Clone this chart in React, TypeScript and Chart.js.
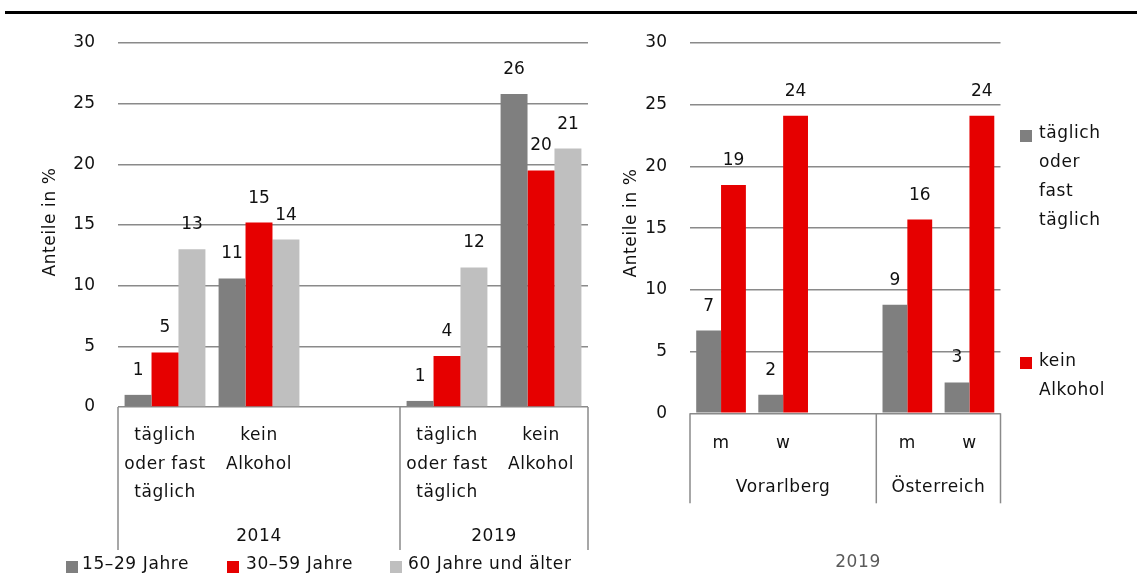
import React, { useEffect, useRef } from 'react';
import { Chart, registerables } from 'chart.js';

Chart.register(...registerables);

const FONT = '"DejaVu Sans", "Noto Sans", sans-serif';
const FS = 17;
const TEXT = '#111111';
const GRID = '#8a8a8a';
const DARK = '#7f7f7f';
const RED = '#e60000';
const LIGHT = '#bfbfbf';

// ---- left panel data ----
const leftCategories = ['täglich oder fast täglich', 'kein Alkohol', '', 'täglich oder fast täglich', 'kein Alkohol'];
const leftCategoryLines = [['täglich', 'oder fast', 'täglich'], ['kein', 'Alkohol'], [], ['täglich', 'oder fast', 'täglich'], ['kein', 'Alkohol']];
const leftGroups = ['2014', '2019'];
const leftGroupSpans = [3, 2];
const leftSeriesNames = ['15–29 Jahre', '30–59 Jahre', '60 Jahre und älter'];
const age15to29 = [1.0, 10.6, null, 0.5, 25.8];
const age30to59 = [4.5, 15.2, null, 4.2, 19.5];
const age60plus = [13.0, 13.8, null, 11.5, 21.3];

// ---- right panel data ----
const rightCategories = ['m', 'w', '', 'm', 'w'];
const rightCategoryLines = [['m'], ['w'], [], ['m'], ['w']];
const rightGroups = ['Vorarlberg', 'Österreich'];
const rightGroupSpans = [3, 2];
const rightSeriesNames = [['täglich', 'oder', 'fast', 'täglich'], ['kein', 'Alkohol']];
const dailyValues = [6.7, 1.5, null, 8.8, 2.5];
const noAlcoholValues = [18.5, 24.1, null, 15.7, 24.1];
const rightFooter = '2019';

const yMax = 30;
const yStep = 5;
const yTitle = 'Anteile in %';

type LegendItem = { color: string; sx: number; sy: number; tx: number; ty: number; lines: string[] };

type Decor = {
  categoryLines: string[][];
  groups: string[];
  groupSpans: number[];
  catY0: number;
  lineH: number;
  groupY: number;
  divLen: number;
  titleX: number;
  titleY: number;
  legend: LegendItem[];
  footer?: { text: string; x: number; y: number };
};

const WORD_SPACING = '0.6px';

function makeDecor(cfg: Decor) {
  return {
    id: 'decor',
    afterDraw(chart: any) {
      const { ctx, chartArea } = chart;
      const xs = chart.scales.x;
      const n = cfg.categoryLines.length;
      const cw = (chartArea.right - chartArea.left) / n;
      ctx.save();
      ctx.font = `${FS}px ${FONT}`;
      ctx.fillStyle = TEXT;
      ctx.textAlign = 'center';
      ctx.textBaseline = 'alphabetic';
      // value labels
      chart.data.datasets.forEach((ds: any, di: number) => {
        const meta = chart.getDatasetMeta(di);
        meta.data.forEach((el: any, i: number) => {
          const v = ds.data[i];
          if (v == null) return;
          ctx.fillText(String(Math.round(v)), el.x, el.y - 20);
        });
      });
      (ctx as any).letterSpacing = WORD_SPACING;
      // category labels
      ctx.textBaseline = 'middle';
      cfg.categoryLines.forEach((lines, i) => {
        const x = xs.getPixelForValue(i);
        lines.forEach((t, k) => ctx.fillText(t, x, chartArea.bottom + cfg.catY0 + k * cfg.lineH));
      });
      // dividers
      const bounds = [0];
      let acc = 0;
      cfg.groupSpans.forEach((s) => {
        acc += s;
        bounds.push(acc);
      });
      ctx.strokeStyle = GRID;
      ctx.lineWidth = 1.5;
      bounds.forEach((b) => {
        const x = chartArea.left + b * cw;
        ctx.beginPath();
        ctx.moveTo(x, chartArea.bottom);
        ctx.lineTo(x, chartArea.bottom + cfg.divLen);
        ctx.stroke();
      });
      // group labels
      cfg.groups.forEach((g, gi) => {
        const x = chartArea.left + ((bounds[gi] + bounds[gi + 1]) / 2) * cw;
        ctx.fillText(g, x, chartArea.bottom + cfg.groupY);
      });
      // y title
      ctx.save();
      ctx.translate(cfg.titleX, cfg.titleY);
      ctx.rotate(-Math.PI / 2);
      ctx.fillText(yTitle, 0, 0);
      ctx.restore();
      // legend
      ctx.textAlign = 'left';
      cfg.legend.forEach((it) => {
        ctx.fillStyle = it.color;
        ctx.fillRect(it.sx, it.sy, 12, 12);
        ctx.fillStyle = TEXT;
        it.lines.forEach((t, k) => ctx.fillText(t, it.tx, it.ty + k * 28.7));
      });
      if (cfg.footer) {
        ctx.textAlign = 'center';
        ctx.fillStyle = '#5a5a5a';
        ctx.fillText(cfg.footer.text, cfg.footer.x, cfg.footer.y);
      }
      ctx.restore();
    },
  };
}

function baseOptions(yWidth: number, padding: any, catPct: number) {
  return {
    responsive: false,
    animation: false as const,
    layout: { padding },
    datasets: { bar: { categoryPercentage: catPct, barPercentage: 1 } },
    plugins: { legend: { display: false }, tooltip: { enabled: false } },
    scales: {
      x: { display: false },
      y: {
        min: 0,
        max: yMax,
        ticks: { stepSize: yStep, padding: 23, color: TEXT, font: { family: FONT, size: FS } },
        grid: { color: GRID, lineWidth: 1.5, drawTicks: false },
        border: { display: false },
        afterFit: (s: any) => {
          s.width = yWidth;
        },
      },
    },
  };
}

function LeftChart() {
  const ref = useRef<HTMLCanvasElement>(null);
  useEffect(() => {
    const decor = makeDecor({
      categoryLines: leftCategoryLines,
      groups: leftGroups,
      groupSpans: leftGroupSpans,
      catY0: 29,
      lineH: 28.5,
      groupY: 130,
      divLen: 143,
      titleX: 51,
      titleY: 222,
      legend: [
        { color: DARK, sx: 66, sy: 561, tx: 82, ty: 565, lines: [leftSeriesNames[0]] },
        { color: RED, sx: 227, sy: 561, tx: 246, ty: 565, lines: [leftSeriesNames[1]] },
        { color: LIGHT, sx: 390, sy: 561, tx: 408, ty: 565, lines: [leftSeriesNames[2]] },
      ],
    });
    const chart = new Chart(ref.current!, {
      type: 'bar',
      data: {
        labels: leftCategories,
        datasets: [
          { label: leftSeriesNames[0], data: age15to29, backgroundColor: DARK },
          { label: leftSeriesNames[1], data: age30to59, backgroundColor: RED },
          { label: leftSeriesNames[2], data: age60plus, backgroundColor: LIGHT },
        ],
      },
      options: baseOptions(118, { left: 0, top: 43, right: 12, bottom: 166 }, 0.86) as any,
      plugins: [decor as any],
    });
    return () => chart.destroy();
  }, []);
  return <canvas ref={ref} width={600} height={573} style={{ position: 'absolute', left: 0, top: 0, display: 'block' }} />;
}

function RightChart() {
  const ref = useRef<HTMLCanvasElement>(null);
  useEffect(() => {
    const decor = makeDecor({
      categoryLines: rightCategoryLines,
      groups: rightGroups,
      groupSpans: rightGroupSpans,
      catY0: 30,
      lineH: 28.5,
      groupY: 74,
      divLen: 90,
      titleX: 32,
      titleY: 223,
      legend: [
        { color: DARK, sx: 420, sy: 130, tx: 439, ty: 134, lines: rightSeriesNames[0] },
        { color: RED, sx: 420, sy: 357, tx: 439, ty: 362, lines: rightSeriesNames[1] },
      ],
      footer: { text: rightFooter, x: 258, y: 563 },
    });
    const chart = new Chart(ref.current!, {
      type: 'bar',
      data: {
        labels: rightCategories,
        datasets: [
          { label: rightSeriesNames[0].join(' '), data: dailyValues, backgroundColor: DARK },
          { label: rightSeriesNames[1].join(' '), data: noAlcoholValues, backgroundColor: RED },
        ],
      },
      options: baseOptions(90, { left: 0, top: 43, right: 136.5, bottom: 159.7 }, 0.8) as any,
      plugins: [decor as any],
    });
    return () => chart.destroy();
  }, []);
  return <canvas ref={ref} width={537} height={573} style={{ position: 'absolute', left: 600, top: 0, display: 'block' }} />;
}

export default function App() {
  return (
    <div style={{ position: 'absolute', left: 0, top: 0, width: 1137, height: 573, background: '#fff', overflow: 'hidden' }}>
      <div style={{ position: 'absolute', left: 5, top: 11, width: 1132, height: 3, background: '#000' }} />
      <LeftChart />
      <RightChart />
    </div>
  );
}
